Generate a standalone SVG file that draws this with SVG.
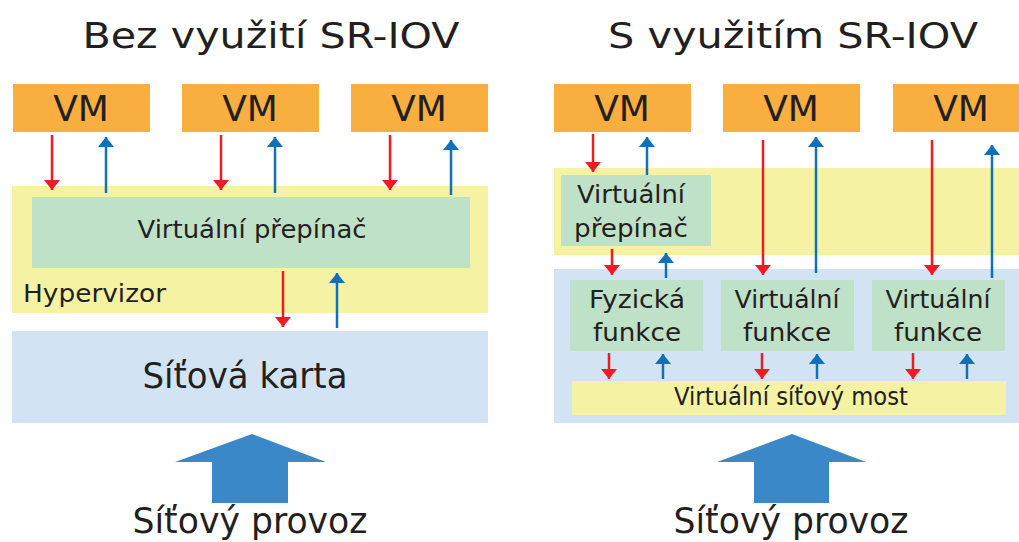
<svg xmlns="http://www.w3.org/2000/svg" width="1019" height="542" viewBox="0 0 1019 542">
  <style>
    text { font-family: "DejaVu Sans", "Open Sans", "Liberation Sans", sans-serif; fill: #231F20; }
    .title { font-size: 36px; text-anchor: middle; }
    .vm { fill: #F9AE40; }
    .vmt { font-size: 36px; text-anchor: middle; }
    .hyp { fill: #F6F2A4; }
    .sw { fill: #BFE1C8; }
    .nic { fill: #D2E4F3; }
    .lbl { font-size: 24px; text-anchor: middle; }
    .fn { font-size: 25px; text-anchor: middle; }
    .big { font-size: 35px; text-anchor: middle; }
    .down { stroke: #ED1C24; stroke-width: 2.5; marker-end: url(#hr); }
    .up { stroke: #0E71BA; stroke-width: 2.5; marker-end: url(#hb); }
    .traffic { fill: #3A88C8; }
  </style>
  <defs>
    <marker id="hr" markerUnits="userSpaceOnUse" markerWidth="10" markerHeight="16" refX="10" refY="8" orient="auto">
      <path d="M0,0 L10,8 L0,16 Z" fill="#ED1C24"/>
    </marker>
    <marker id="hb" markerUnits="userSpaceOnUse" markerWidth="10" markerHeight="16" refX="10" refY="8" orient="auto">
      <path d="M0,0 L10,8 L0,16 Z" fill="#0E71BA"/>
    </marker>
  </defs>

  <!-- Left: without SR-IOV -->
  <text class="title" x="271" y="48" textLength="377" lengthAdjust="spacingAndGlyphs">Bez využití SR-IOV</text>

  <g id="l-vm1"><rect class="vm" x="13" y="84" width="137" height="48"/><text class="vmt" x="81" y="121">VM</text></g>
  <g id="l-vm2"><rect class="vm" x="182" y="84" width="137" height="48"/><text class="vmt" x="250" y="121">VM</text></g>
  <g id="l-vm3"><rect class="vm" x="351" y="84" width="137" height="48"/><text class="vmt" x="419" y="121">VM</text></g>

  <g id="l-hypervisor">
    <rect class="hyp" x="12" y="186" width="476" height="127"/>
    <text x="23" y="302" font-size="24" textLength="143" lengthAdjust="spacingAndGlyphs">Hypervizor</text>
  </g>
  <g id="l-switch">
    <rect class="sw" x="32" y="197" width="438" height="71"/>
    <text class="lbl" x="252" y="238" font-size="25" textLength="229" lengthAdjust="spacingAndGlyphs">Virtuální přepínač</text>
  </g>
  <g id="l-nic">
    <rect class="nic" x="12" y="331" width="476" height="92"/>
    <text class="big" x="245" y="388" font-size="35" textLength="205" lengthAdjust="spacingAndGlyphs">Síťová karta</text>
  </g>
  <g id="l-traffic">
    <path class="traffic" d="M252,434 L326,462 L288,462 L288,503 L212,503 L212,462 L175,462 Z"/>
    <text class="big" x="250" y="533" textLength="235" lengthAdjust="spacingAndGlyphs">Síťový provoz</text>
  </g>

  <!-- Right: with SR-IOV -->
  <text class="title" x="793" y="48" textLength="370" lengthAdjust="spacingAndGlyphs">S využitím SR-IOV</text>

  <g id="r-vm1"><rect class="vm" x="554" y="84" width="137" height="48"/><text class="vmt" x="622" y="121">VM</text></g>
  <g id="r-vm2"><rect class="vm" x="723" y="84" width="137" height="48"/><text class="vmt" x="791" y="121">VM</text></g>
  <g id="r-vm3"><rect class="vm" x="893" y="84" width="137" height="48"/><text class="vmt" x="961" y="121">VM</text></g>

  <g id="r-hypervisor"><rect class="hyp" x="554" y="168" width="465" height="87"/></g>
  <g id="r-switch">
    <rect class="sw" x="561" y="175" width="150" height="71"/>
    <text class="lbl" x="631" y="203" textLength="108" lengthAdjust="spacingAndGlyphs">Virtuální</text>
    <text class="lbl" x="631" y="237" textLength="114" lengthAdjust="spacingAndGlyphs">přepínač</text>
  </g>
  <g id="r-nic"><rect class="nic" x="554" y="269" width="465" height="154"/></g>
  <g id="r-pf">
    <rect class="sw" x="570" y="280" width="133" height="71"/>
    <text class="fn" x="637" y="308" textLength="96" lengthAdjust="spacingAndGlyphs">Fyzická</text>
    <text class="fn" x="637" y="341" textLength="88" lengthAdjust="spacingAndGlyphs">funkce</text>
  </g>
  <g id="r-vf1">
    <rect class="sw" x="721" y="280" width="133" height="71"/>
    <text class="fn" x="787" y="308" textLength="105" lengthAdjust="spacingAndGlyphs">Virtuální</text>
    <text class="fn" x="787" y="341" textLength="88" lengthAdjust="spacingAndGlyphs">funkce</text>
  </g>
  <g id="r-vf2">
    <rect class="sw" x="872" y="280" width="133" height="71"/>
    <text class="fn" x="938" y="308" textLength="105" lengthAdjust="spacingAndGlyphs">Virtuální</text>
    <text class="fn" x="938" y="341" textLength="88" lengthAdjust="spacingAndGlyphs">funkce</text>
  </g>
  <g id="r-bridge">
    <rect class="hyp" x="572" y="381" width="434" height="34"/>
    <text class="lbl" x="791" y="405" font-size="22" textLength="234" lengthAdjust="spacingAndGlyphs">Virtuální síťový most</text>
  </g>
  <g id="r-traffic">
    <path class="traffic" d="M792,434 L866,462 L829,462 L829,503 L754,503 L754,462 L717,462 Z"/>
    <text class="big" x="791" y="533" textLength="235" lengthAdjust="spacingAndGlyphs">Síťový provoz</text>
  </g>

  <!-- Connectors -->
  <g id="connectors">
    <line class="down" x1="52" y1="135" x2="52" y2="190"/>
    <line class="up" x1="106" y1="193" x2="106" y2="137"/>
    <line class="down" x1="221" y1="135" x2="221" y2="190"/>
    <line class="up" x1="275" y1="193" x2="275" y2="137"/>
    <line class="down" x1="390" y1="135" x2="390" y2="190"/>
    <line class="up" x1="451" y1="195" x2="451" y2="140"/>
    <line class="down" x1="283" y1="271" x2="283" y2="327"/>
    <line class="up" x1="337" y1="328" x2="337" y2="273"/>

    <line class="down" x1="593" y1="134" x2="593" y2="172"/>
    <line class="up" x1="647" y1="175" x2="647" y2="137"/>
    <line class="down" x1="612" y1="249" x2="612" y2="275"/>
    <line class="up" x1="666" y1="278" x2="666" y2="253"/>
    <line class="down" x1="763" y1="140" x2="763" y2="275"/>
    <line class="up" x1="816" y1="273" x2="816" y2="137"/>
    <line class="down" x1="932" y1="140" x2="932" y2="275"/>
    <line class="up" x1="992" y1="278" x2="992" y2="145"/>

    <line class="down" x1="609" y1="353" x2="609" y2="379"/>
    <line class="up" x1="663" y1="379" x2="663" y2="354"/>
    <line class="down" x1="762" y1="353" x2="762" y2="379"/>
    <line class="up" x1="817" y1="379" x2="817" y2="354"/>
    <line class="down" x1="913" y1="353" x2="913" y2="379"/>
    <line class="up" x1="967" y1="379" x2="967" y2="354"/>
  </g>
</svg>
